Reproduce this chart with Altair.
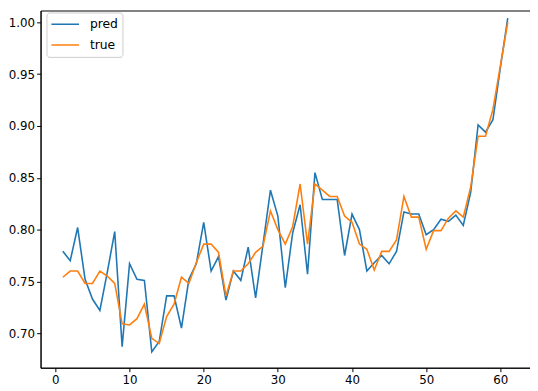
import altair as alt
import pandas as pd

x_vals = list(range(1, 62))
pred = [0.779, 0.770, 0.802, 0.752, 0.733, 0.722, 0.759, 0.798, 0.687, 0.767,
        0.752, 0.751, 0.682, 0.692, 0.736, 0.736, 0.705, 0.752, 0.767, 0.807,
        0.760, 0.774, 0.732, 0.760, 0.751, 0.783, 0.734, 0.786, 0.838, 0.813,
        0.744, 0.797, 0.824, 0.757, 0.855, 0.829, 0.829, 0.829, 0.775, 0.815,
        0.800, 0.760, 0.768, 0.775, 0.767, 0.779, 0.817, 0.815, 0.815, 0.795,
        0.800, 0.810, 0.808, 0.814, 0.804, 0.836, 0.901, 0.894, 0.906, 0.956,
        1.004]
true = [0.754, 0.760, 0.760, 0.748, 0.748, 0.760, 0.755, 0.748, 0.709, 0.708,
        0.714, 0.728, 0.695, 0.690, 0.716, 0.728, 0.754, 0.748, 0.768, 0.786,
        0.786, 0.778, 0.736, 0.760, 0.760, 0.767, 0.778, 0.784, 0.818, 0.800,
        0.786, 0.803, 0.844, 0.786, 0.844, 0.838, 0.832, 0.832, 0.813, 0.807,
        0.786, 0.781, 0.761, 0.779, 0.779, 0.790, 0.832, 0.812, 0.812, 0.781,
        0.799, 0.799, 0.811, 0.818, 0.812, 0.841, 0.890, 0.890, 0.916, 0.958,
        1.000]
series_names = ["pred", "true"]
colors = ["#1f77b4", "#ff7f0e"]
x_ticks = [0, 10, 20, 30, 40, 50, 60]
y_ticks = [0.70, 0.75, 0.80, 0.85, 0.90, 0.95, 1.00]

df = pd.concat([
    pd.DataFrame({"x": x_vals, "value": pred, "series": "pred"}),
    pd.DataFrame({"x": x_vals, "value": true, "series": "true"}),
])

font = "DejaVu Sans"

chart = alt.Chart(df).mark_line(strokeWidth=1.6).encode(
    x=alt.X("x:Q",
            scale=alt.Scale(domain=[-2, 64], nice=False, zero=False),
            axis=alt.Axis(values=x_ticks, title=None, grid=False, format="d",
                          domainColor="black", tickColor="black", tickSize=4,
                          labelColor="black", labelFont=font, labelFontSize=12,
                          labelPadding=3)),
    y=alt.Y("value:Q",
            scale=alt.Scale(domain=[0.6667, 1.0114], nice=False, zero=False),
            axis=alt.Axis(values=y_ticks, title=None, grid=False, format=".2f",
                          domainColor="black", tickColor="black", tickSize=4,
                          labelColor="black", labelFont=font, labelFontSize=12,
                          labelPadding=2)),
    color=alt.Color("series:N",
                    scale=alt.Scale(domain=series_names, range=colors),
                    legend=alt.Legend(title=None, orient="none",
                                      legendX=6, legendY=2,
                                      symbolType="stroke", symbolSize=784,
                                      symbolStrokeWidth=1.6, clipHeight=16,
                                      labelFont=font, labelFontSize=12.5,
                                      labelColor="black",
                                      strokeColor="#cccccc", fillColor="white",
                                      cornerRadius=3, padding=4,
                                      rowPadding=5, labelOffset=10)),
).properties(
    width=496, height=362, padding=0
).configure_view(
    stroke="black", strokeWidth=1
)

chart.save("out.html", embed_options={"renderer": "svg", "actions": False})
